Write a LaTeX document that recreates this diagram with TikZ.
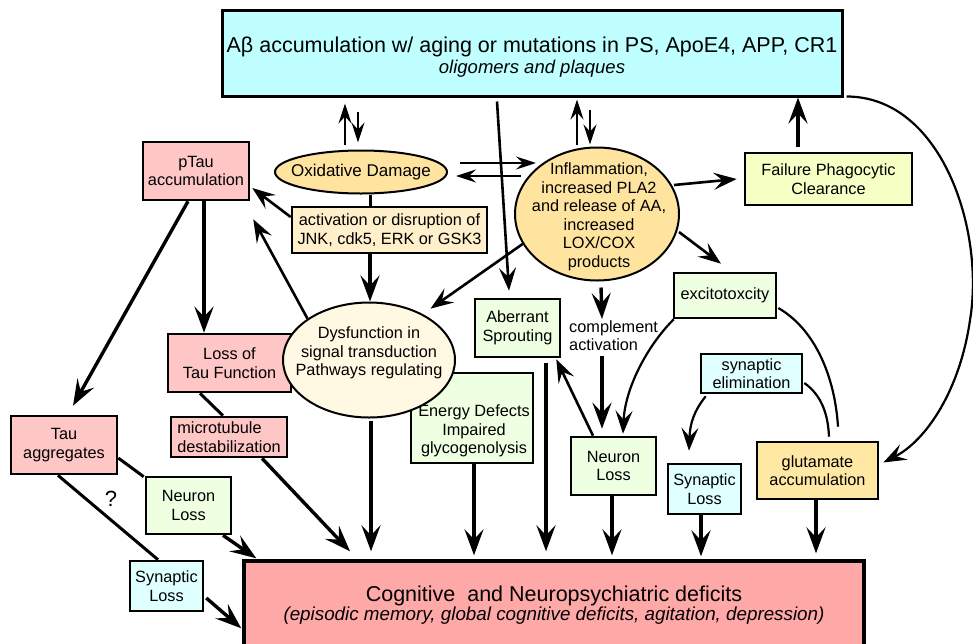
\documentclass[tikz,border=0pt]{standalone}
\usepackage{fontspec}
\setmainfont{Liberation Sans}
\usetikzlibrary{shapes.geometric,arrows.meta,calc}
\definecolor{cTop}{HTML}{C0FFFF}
\definecolor{cPink}{HTML}{FFC6C6}
\definecolor{cCog}{HTML}{FFA8A8}
\definecolor{cOr}{HTML}{FFE4A0}
\definecolor{cAct}{HTML}{FFEFCA}
\definecolor{cDys}{HTML}{FFF8E2}
\definecolor{cFail}{HTML}{F6FFC4}
\definecolor{cGreen}{HTML}{EEFFE2}
\definecolor{cCyan}{HTML}{E0FFFF}
\definecolor{cGlu}{HTML}{FFE8A4}
\newcommand\nfont{\fontsize{16.3}{18.5}\selectfont}
\begin{document}
\begin{tikzpicture}[x=1pt,y=-1pt,
  box/.style={draw, line width=2.6pt, inner sep=0pt, align=center, font=\nfont},
  ell/.style={draw, ellipse, line width=2pt, inner sep=0pt},
  txt/.style={inner sep=0pt, align=center, font=\nfont},
  arr/.style={line width=3.4pt, -{Stealth[length=26pt,width=19pt,inset=10pt]}},
  marr/.style={line width=2.6pt, -{Stealth[length=23pt,width=17pt,inset=9pt]}},
  thinarr/.style={line width=2.2pt, -{Stealth[length=20pt,width=13pt,inset=7pt]}},
  plain/.style={line width=3pt},
  curv/.style={line width=2.2pt},
  ]
\useasboundingbox (0,0) rectangle (973,643);

% nodes
\node[box, fill=cCog, minimum width=620pt, minimum height=88pt, line width=3.4pt] (cog) at (554,605)
  {{\fontsize{21.5}{24}\selectfont Cognitive~ and Neuropsychiatric deficits}\\{\fontsize{18.8}{24}\selectfont\itshape (episodic memory, global cognitive deficits, agitation, depression)}};

\node[box, fill=cTop, minimum width=620pt, minimum height=86pt, line width=3pt] (top) at (532,53) {};
\node[txt, font=\fontsize{21.5}{21}\selectfont] (toptxt) at (532,57)
  {Aβ accumulation w/ aging or mutations in PS, ApoE4, APP, CR1\\{\fontsize{18.5}{21}\selectfont\itshape oligomers and plaques}};

\node[ell, fill=cOr, minimum width=172pt, minimum height=43pt] (ox) at (361,172) {};
\node[txt, font=\fontsize{17}{19}\selectfont] (oxtxt) at (361,172) {Oxidative Damage};

\node[box, fill=cAct, minimum width=195pt, minimum height=46pt] (act) at (389.5,230) {activation or disruption of\\JNK, cdk5, ERK or GSK3};

\node[ell, fill=cOr, minimum width=164pt, minimum height=133pt] (infl) at (597,214) {};
\node[txt] (infltxt) at (599,217) {Inflammation,\\increased PLA2\\and release of AA,\\increased\\LOX/COX\\products};

\node[box, fill=cPink, minimum width=106pt, minimum height=58pt] (ptau) at (196,171) {pTau\\accumulation};
\node[box, fill=cFail, minimum width=167pt, minimum height=52pt] (fail) at (828.5,179) {Failure Phagocytic\\Clearance};
\node[box, fill=cPink, minimum width=123pt, minimum height=58pt] (lot) at (229.5,363) {Loss of\\Tau Function};

\node[box, fill=cGreen, minimum width=122pt, minimum height=90pt] (energy) at (472,418) {};
\node[txt] (energytxt) at (474,431) {Energy Defects\\Impaired\\glycogenolysis};

\node[ell, fill=cDys, minimum width=172pt, minimum height=115pt] (dys) at (369,360) {};
\node[txt] (dystxt) at (369,353) {Dysfunction in\\signal transduction\\Pathways regulating};

\node[box, fill=cGreen, minimum width=85pt, minimum height=58pt] (aber) at (517.5,328) {Aberrant\\Sprouting};
\node[box, fill=cGreen, minimum width=102pt, minimum height=45pt] (exc) at (725,295.5) {excitotoxcity};
\node[txt, anchor=north west, align=left] (comp) at (569,320) {complement\\activation};
\node[box, fill=cCyan, minimum width=101pt, minimum height=39pt] (selim) at (751.5,373.5) {synaptic\\elimination};

\node[box, fill=cPink, minimum width=106pt, minimum height=58pt] (taua) at (64,445) {Tau\\aggregates};
\node[box, fill=cPink, minimum width=116pt, minimum height=40pt, align=left] (micro) at (229,437) {microtubule\\destabilization};
\node[box, fill=cGreen, minimum width=85pt, minimum height=57pt] (nll) at (188.5,505.5) {Neuron\\Loss};
\node[box, fill=cCyan, minimum width=73pt, minimum height=50pt] (sll) at (166.5,586) {Synaptic\\Loss};
\node[box, fill=cGreen, minimum width=85pt, minimum height=58pt] (nlr) at (613.5,466) {Neuron\\Loss};
\node[box, fill=cCyan, minimum width=73pt, minimum height=50pt] (slr) at (704.5,489) {Synaptic\\Loss};
\node[box, fill=cGlu, minimum width=121pt, minimum height=57pt] (glu) at (817.5,470.5) {glutamate\\accumulation};
\node[font=\fontsize{22}{24}\selectfont, inner sep=0pt] (q) at (111,499) {?};

\coordinate (rc) at (970,320);

% top arrows
\draw[thinarr] ($(ox.north)+(-16,-5)$) -- ($(top.south)+(-187,6)$);
\draw[thinarr] ($(top.south)+(-174,14)$) -- ($(ox.north)+(-3,-7)$);
\draw[thinarr] ($(infl.north)+(-20,-2)$) -- ($(top.south)+(45,2)$);
\draw[thinarr] ($(top.south)+(58,12)$) -- ($(infl.north)+(-7,-2)$);
\draw[thinarr] ($(ox.east)+(12,-9)$) -- ($(infl.west)+(22,-51)$);
\draw[thinarr] ($(infl.west)+(7,-38)$) -- ($(ox.east)+(8,4)$);

% oxidative / activation / dysfunction
\draw[plain] ($(ox.south)+(9,0)$) -- ($(act.north)+(-19.5,0)$);
\draw[arr] ($(act.south)+(-19.5,0)$) -- ($(dys.north)+(1,0)$);
\draw[marr] ($(act.west)+(0,-13)$) -- ($(ptau.east)+(2,17)$);
\draw[marr] (dys.north west) -- ($(ptau.south east)+(3,18)$);

% tau branch
\draw[arr] ($(ptau.south)+(8,0)$) -- ($(lot.north)+(-25.5,0)$);
\draw[arr] ($(ptau.south)+(-8,0)$) -- ($(taua.north)+(9,-9)$);
\draw[plain] ($(lot.south)+(-29.5,0)$) -- ($(micro.north)+(-6,0)$);
\draw[arr] ($(micro.south)+(33,0)$) -- ($(cog.north)+(-204,-8)$);
\draw[plain] ($(taua.east)+(0,13)$) -- ($(nll.north west)+(-1,1)$);
\draw[arr] ($(nll.south)+(34.5,0)$) -- ($(cog.north west)+(14,-1)$);
\draw[plain] ($(taua.south)+(-6,0)$) -- ($(sll.north)+(-8.5,0)$);
\draw[arr] ($(sll.east)+(2,12)$) -- ($(cog.north west)+(-1,69)$);

% central arrows to cognitive
\draw[arr] ($(dys.south)+(2,2)$) -- ($(cog.north)+(-183,-8)$);
\draw[arr] ($(energy.south)+(2,0)$) -- ($(cog.north)+(-80,-4)$);
\draw[arr] ($(aber.south)+(28.5,5)$) -- ($(cog.north)+(-8,-8)$);
\draw[marr] ($(top.south)+(-35,4)$) -- ($(aber.north)+(-8.5,-7)$);

% inflammation outputs
\draw[marr] ($(infl.center)+(-73,29)$) -- ($(dys.north east)+(0,-10)$);
\draw[arr] ($(infl.south)+(4,6)$) -- ($(comp.north west)+(33,-1)$);
\draw[arr] ($(comp.south west)+(33,5)$) -- ($(nlr.north)+(-11.5,-7)$);
\draw[marr] ($(nlr.north)+(-20.5,0)$) -- ($(aber.south east)+(-5,1)$);
\draw[marr] ($(infl.east)+(-6,-29)$) -- ($(fail.west)+(-7,0)$);
\draw[arr] ($(fail.north)+(-30.5,-5)$) -- ($(top.south)+(266,0)$);
\draw[marr] ($(infl.east)+(-1,18)$) -- ($(exc.north)+(-4,-8)$);

% curves on the right
\draw[curv, -{Stealth[length=23pt,width=17pt,inset=9pt]}] ($(exc.south west)+(1,0)$) .. controls +(-27,27) and +(2,-45) .. ($(nlr.north)+(9.5,-2)$);
\draw[curv] ($(exc.east)+(1,12.5)$) .. controls +(38,22) and +(-3,-48) .. ($(glu.north)+(20.5,-14)$);
\draw[curv] ($(selim.east)+(1,9.5)$) .. controls +(17,12) and +(-1,-23) .. ($(glu.north)+(11.5,-4)$);
\draw[curv, -{Stealth[length=23pt,width=17pt,inset=9pt]}] ($(selim.south west)+(6,2)$) .. controls +(-12,15) and +(1,-27) .. ($(slr.north)+(-15.5,-12)$);
\draw[curv, -{Stealth[length=23pt,width=17pt,inset=9pt]}] ($(top.south east)+(3,-1)$) .. controls +(95,0) and +(15,-90) .. (rc) .. controls +(-10,70) and +(43,-22) .. ($(glu.east)+(4,-8)$);

% lower right to cognitive
\draw[arr] ($(nlr.south)+(-1.5,0)$) -- ($(cog.north)+(58,-4)$);
\draw[arr] ($(slr.south)+(-3.5,0)$) -- ($(cog.north)+(147,-3)$);
\draw[arr] ($(glu.south)+(-1.5,0)$) -- ($(cog.north)+(262,-6)$);
\end{tikzpicture}
\end{document}
